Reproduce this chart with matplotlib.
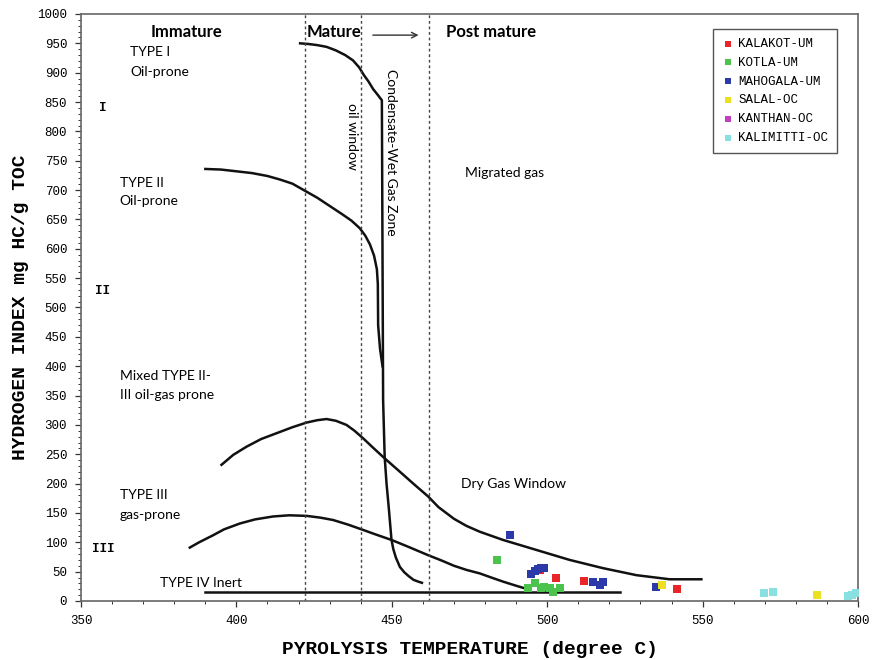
import matplotlib
matplotlib.use("Agg")
import matplotlib.pyplot as plt
from matplotlib.ticker import MultipleLocator

# ---------------- data ----------------
type1_T = [420.5, 423, 426, 429, 432, 435, 437.5, 439.5, 441.0, 442.5, 444.0, 445.5, 446.8,
           447.0, 447.2, 447.7, 448.3, 449.0, 449.9, 450.5, 451.3, 452.6, 454.0, 455.5, 457.0, 458.5, 459.7]
type1_HI = [950, 949, 947, 944, 938, 930, 921, 909, 896, 885, 872, 862, 853,
            600, 342, 246, 200, 160, 104, 88, 74, 58, 49, 42, 36, 33, 31]

type2_T = [390, 395, 400, 405, 410, 414, 418, 422, 426, 430, 434, 437, 439.7, 441.5, 443.0,
           444.3, 445.2, 445.5, 445.6, 446.2, 447.0]
type2_HI = [736, 735, 732, 729, 724, 718, 711, 699, 687, 673, 659, 648, 635, 622, 607,
            588, 565, 540, 470, 430, 400]

mixed_T = [395.2, 399, 403.3, 408, 414.0, 418, 422.6, 426, 429, 432, 435.4, 438, 440.8, 444,
           447.7, 452, 456.9, 461.7, 465, 470.0, 474, 478.3, 485.8, 496.5, 507.2, 517.9, 528.7,
           539.4, 549.6]
mixed_HI = [232, 249, 263, 276, 288, 296, 304, 308, 310, 307, 300, 290, 277, 261,
            243, 223, 200, 178, 160, 140, 128, 118, 104, 87, 70, 56, 44, 37, 37]

type3_T = [385.0, 388, 392.5, 396, 401.1, 406, 411.8, 417, 422.6, 427, 431.1, 436, 440.8, 445,
           449.9, 455, 461.7, 466, 470.0, 474, 478.3, 482, 485.8, 490, 494.4]
type3_HI = [91, 100, 112, 122, 132, 139, 144, 146, 145, 142, 138, 130, 121, 113,
            104, 93, 78, 69, 60, 53, 47, 40, 33, 26, 19]

type4_T = [389.9, 523.3]
type4_HI = [16, 16]

zone_lines_T = [422, 440, 462]

series_names = ["KALAKOT-UM", "KOTLA-UM", "MAHOGALA-UM", "SALAL-OC", "KANTHAN-OC", "KALIMITTI-OC"]
series_colors = ["#e8262a", "#4cc34c", "#2b3aa8", "#ece020", "#c040c0", "#88e0e0"]

kalakot_T = [497.6, 502.7, 511.7, 541.7]
kalakot_HI = [53, 40, 34, 20]
kotla_T = [483.8, 496.0, 493.8, 497.9, 498.9, 500.8, 501.9, 504.0]
kotla_HI = [70, 30, 22, 22, 23, 22, 16, 22]
mahogala_T = [487.9, 494.9, 496.0, 497.0, 498.1, 498.9, 514.7, 516.9, 517.9, 534.9]
mahogala_HI = [112, 46, 51, 54, 56, 57, 33, 28, 33, 24]
salal_T = [536.9, 586.9]
salal_HI = [27, 11]
kanthan_T = []
kanthan_HI = []
kalimitti_T = [569.9, 572.6, 596.7, 598.1, 599.4]
kalimitti_HI = [14, 16, 9, 10, 13]

# ---------------- figure ----------------
fig = plt.figure(figsize=(8.74, 6.60), dpi=100)
ax = fig.add_axes([0.0927, 0.0894, 0.889, 0.8894])
ax.set_xlim(350, 600)
ax.set_ylim(0, 1000)

lw = 1.8
for T, HI in [(type1_T, type1_HI), (type2_T, type2_HI), (mixed_T, mixed_HI),
              (type3_T, type3_HI), (type4_T, type4_HI)]:
    ax.plot(T, HI, color="#111111", lw=lw, solid_joinstyle="round")

for t in zone_lines_T:
    ax.axvline(t, color="#444444", lw=1.0, ls=(0, (2, 2)))

all_T = [kalakot_T, kotla_T, mahogala_T, salal_T, kanthan_T, kalimitti_T]
all_HI = [kalakot_HI, kotla_HI, mahogala_HI, salal_HI, kanthan_HI, kalimitti_HI]
order = [1, 0, 2, 3, 4, 5]
handles = {}
for i in order:
    h = ax.scatter(all_T[i], all_HI[i], marker="s", s=30, color=series_colors[i],
                   label=series_names[i], zorder=5, linewidths=0)
    handles[i] = h

leg = ax.legend([handles[i] for i in range(6)], series_names,
                loc="upper right", bbox_to_anchor=(0.981, 0.985),
                prop={"family": "Liberation Mono", "size": 9},
                fancybox=False, edgecolor="#555555", framealpha=1,
                handletextpad=0.3, borderpad=0.7, labelspacing=0.55,
                handlelength=1.0, markerscale=0.8)
leg.get_frame().set_linewidth(1.0)

# Arrow
ax.annotate("", xy=(459.5, 964), xytext=(443, 964),
            arrowprops=dict(arrowstyle="->", color="#333333", lw=1.0))

tf = "Lato"
ax.text(384, 970, "Immature", fontsize=12, fontweight="bold", family=tf, ha="center", va="center")
ax.text(422.7, 970, "Mature", fontsize=12, fontweight="bold", family=tf, ha="left", va="center")
ax.text(467.5, 970, "Post mature", fontsize=12, fontweight="bold", family=tf, ha="left", va="center")

fs = 10
ax.text(365.8, 935, "TYPE I", fontsize=fs, family=tf, va="center")
ax.text(365.8, 901, "Oil-prone", fontsize=fs, family=tf, va="center")
ax.text(362.5, 712, "TYPE II", fontsize=fs, family=tf, va="center")
ax.text(362.5, 681, "Oil-prone", fontsize=fs, family=tf, va="center")
ax.text(362.5, 383, "Mixed TYPE II-", fontsize=fs, family=tf, va="center")
ax.text(362.5, 351, "III oil-gas prone", fontsize=fs, family=tf, va="center")
ax.text(362.5, 180, "TYPE III", fontsize=fs, family=tf, va="center")
ax.text(362.5, 147, "gas-prone", fontsize=fs, family=tf, va="center")
ax.text(375.4, 31, "TYPE IV Inert", fontsize=fs, family=tf, va="center")
ax.text(473.5, 729, "Migrated gas", fontsize=fs, family=tf, va="center")
ax.text(472.2, 200, "Dry Gas Window", fontsize=fs, family=tf, va="center")
ax.text(449.6, 765, "Condensate-Wet Gas Zone", fontsize=fs, family=tf,
        rotation=-90, ha="center", va="center")
ax.text(437.2, 792, "oil window", fontsize=fs, family=tf,
        rotation=-90, ha="center", va="center")

rf = "Liberation Mono"
ax.text(357, 840, "I", fontsize=9, fontweight="bold", family=rf, ha="center", va="center")
ax.text(357, 528, "II", fontsize=9, fontweight="bold", family=rf, ha="center", va="center")
ax.text(357, 89, "III", fontsize=9, fontweight="bold", family=rf, ha="center", va="center")

# axes styling
ax.xaxis.set_major_locator(MultipleLocator(50))
ax.xaxis.set_minor_locator(MultipleLocator(10))
ax.yaxis.set_major_locator(MultipleLocator(50))
ax.yaxis.set_minor_locator(MultipleLocator(10))
ax.tick_params(axis="both", which="major", length=4, width=0.9, color="#333333",
               labelsize=9, pad=6)
ax.tick_params(axis="both", which="minor", length=2.5, width=0.7, color="#333333")
for lab in ax.get_xticklabels() + ax.get_yticklabels():
    lab.set_family(rf)
for s in ax.spines.values():
    s.set_color("#666666")
    s.set_linewidth(1.2)

ax.set_xlabel("PYROLYSIS TEMPERATURE (degree C)", family=rf, fontweight="bold",
              fontsize=14, labelpad=10)
ax.set_ylabel("HYDROGEN INDEX mg HC/g TOC", family=rf, fontweight="bold",
              fontsize=14, labelpad=6)

fig.savefig("out.png", dpi=100)
